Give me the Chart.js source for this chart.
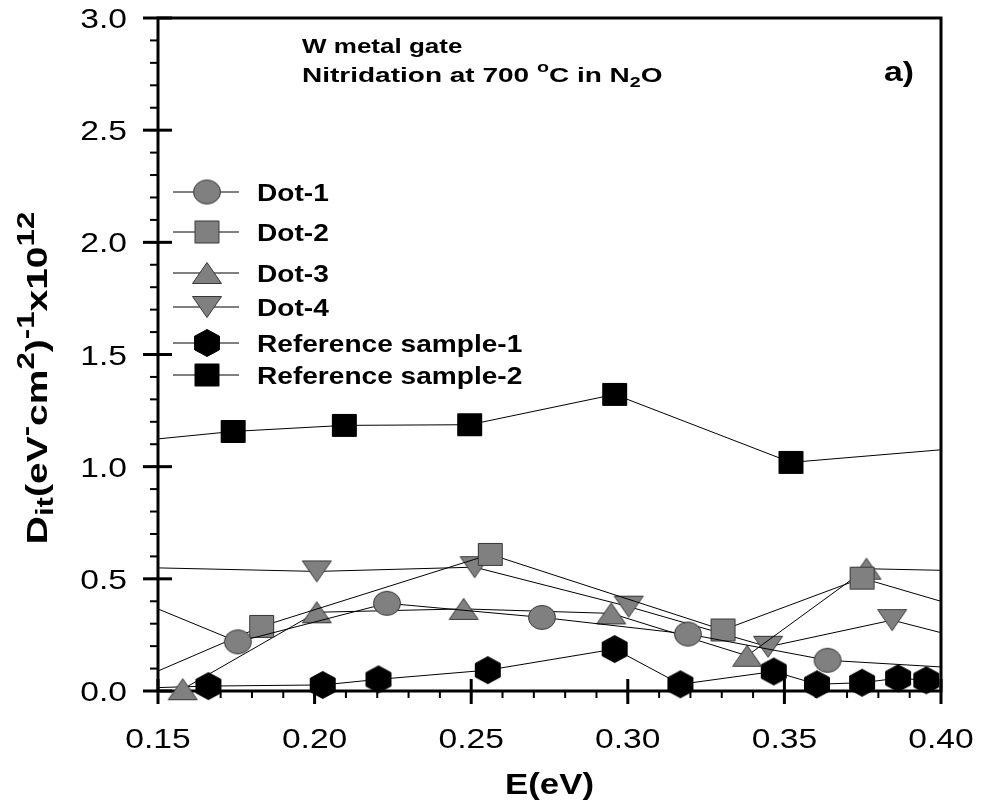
<!DOCTYPE html>
<html>
<head>
<meta charset="utf-8">
<script src="https://cdn.jsdelivr.net/npm/chart.js@4.4.0/dist/chart.umd.min.js"></script>
<style>
  html, body { margin: 0; padding: 0; background: #ffffff; }
</style>
</head>
<body>
<canvas id="chart1" width="983" height="805"></canvas>
<script>
// Interface trap density vs. energy, Dit in units of 1e12 (eV cm^2)^-1
const dot1E = [0.135, 0.1755, 0.2231, 0.2726, 0.3192, 0.3638, 0.41];
const dot1Dit = [0.452, 0.219, 0.391, 0.328, 0.254, 0.137, 0.099];

const dot2E = [0.14, 0.1831, 0.2561, 0.3304, 0.3748, 0.41];
const dot2Dit = [0.029, 0.288, 0.609, 0.272, 0.503, 0.359];

const dot3E = [0.1579, 0.2007, 0.2476, 0.2947, 0.3381, 0.3762, 0.41];
const dot3Dit = [0.008, 0.351, 0.366, 0.346, 0.157, 0.545, 0.535];

const dot4E = [0.13, 0.2007, 0.2511, 0.3003, 0.3448, 0.3844, 0.41];
const dot4Dit = [0.555, 0.533, 0.552, 0.376, 0.197, 0.316, 0.224];

const ref1E = [0.14, 0.1661, 0.2026, 0.2204, 0.2553, 0.2958, 0.3168, 0.3466, 0.3604, 0.3748, 0.3863, 0.3953];
const ref1Dit = [0.011, 0.022, 0.027, 0.052, 0.093, 0.187, 0.030, 0.087, 0.030, 0.037, 0.057, 0.048];

const ref2E = [0.14, 0.174, 0.2095, 0.2495, 0.2958, 0.3521, 0.41];
const ref2Dit = [1.11, 1.157, 1.184, 1.187, 1.322, 1.019, 1.087];

const seriesNames = ['Dot-1', 'Dot-2', 'Dot-3', 'Dot-4', 'Reference sample-1', 'Reference sample-2'];
const xTickLabels = ['0.15', '0.20', '0.25', '0.30', '0.35', '0.40'];
const yTickLabels = ['0.0', '0.5', '1.0', '1.5', '2.0', '2.5', '3.0'];

const FONT = '"Liberation Sans", Arial, sans-serif';
const GRAY = '#808080';
const EDGE = '#383838';

// symbols drawn onto small canvases and used as point styles
function makeMarker(shape, fill, stroke, w, h) {
  const c = document.createElement('canvas');
  c.width = w + 3;
  c.height = h + 3;
  const g = c.getContext('2d');
  const cx = c.width / 2, cy = c.height / 2;
  g.beginPath();
  if (shape === 'circle') {
    g.ellipse(cx, cy, w / 2, h / 2, 0, 0, Math.PI * 2);
  } else if (shape === 'square') {
    g.rect(cx - w / 2, cy - h / 2, w, h);
  } else if (shape === 'up') {
    g.moveTo(cx, cy - h / 2);
    g.lineTo(cx + w / 2, cy + h / 2);
    g.lineTo(cx - w / 2, cy + h / 2);
  } else if (shape === 'down') {
    g.moveTo(cx, cy + h / 2);
    g.lineTo(cx + w / 2, cy - h / 2);
    g.lineTo(cx - w / 2, cy - h / 2);
  } else if (shape === 'hex') {
    for (let i = 0; i < 6; i++) {
      const a = -Math.PI / 2 + i * Math.PI / 3;
      const px = cx + (w / 2) * Math.cos(a) / Math.cos(Math.PI / 6);
      const py = cy + (h / 2) * Math.sin(a);
      if (i === 0) g.moveTo(px, py); else g.lineTo(px, py);
    }
  }
  g.closePath();
  g.fillStyle = fill;
  g.fill();
  g.lineWidth = 1;
  g.strokeStyle = stroke;
  g.stroke();
  return c;
}

const markers = [
  makeMarker('circle', GRAY, EDGE, 27, 24),
  makeMarker('square', GRAY, EDGE, 24, 22),
  makeMarker('up', GRAY, EDGE, 29, 21),
  makeMarker('down', GRAY, EDGE, 29, 21),
  makeMarker('hex', '#000000', '#000000', 25, 27),
  makeMarker('square', '#000000', '#000000', 24, 22)
];

function pairs(xs, ys) {
  return xs.map((x, i) => ({ x: x, y: ys[i] }));
}

const allE = [dot1E, dot2E, dot3E, dot4E, ref1E, ref2E];
const allDit = [dot1Dit, dot2Dit, dot3Dit, dot4Dit, ref1Dit, ref2Dit];

const datasets = seriesNames.map((name, i) => ({
  label: name,
  data: pairs(allE[i], allDit[i]),
  showLine: true,
  borderColor: '#000000',
  borderWidth: 1,
  pointStyle: markers[i],
  pointRadius: 13,
  pointHoverRadius: 13,
  clip: { left: 0, top: 0, right: 0, bottom: 20 }
}));

// text widened horizontally, made of runs with their own size and offset
function richText(ctx, runs, x, y, sx, align) {
  let total = 0;
  runs.forEach(r => {
    ctx.font = (r.normal ? '' : 'bold ') + r.size + 'px ' + FONT;
    r.w = ctx.measureText(r.t).width;
    total += r.w;
  });
  const w = total * sx;
  let x0 = x;
  if (align === 'center') x0 = x - w / 2;
  if (align === 'right') x0 = x - w;
  ctx.save();
  ctx.translate(x0, y);
  ctx.scale(sx, 1);
  ctx.textAlign = 'left';
  ctx.textBaseline = 'alphabetic';
  ctx.fillStyle = '#000000';
  let cx = 0;
  runs.forEach(r => {
    ctx.font = (r.normal ? '' : 'bold ') + r.size + 'px ' + FONT;
    ctx.fillText(r.t, cx, r.dy || 0);
    cx += r.w;
  });
  ctx.restore();
  return w;
}

function plainText(ctx, str, x, y, size, bold, sx, align) {
  return richText(ctx, [{ t: str, size: size, normal: !bold }], x, y, sx, align);
}

const axesPlugin = {
  id: 'axesPlugin',
  beforeDatasetsDraw(chart) {
    const ctx = chart.ctx;
    const xs = chart.scales.x, ys = chart.scales.y;
    const a = chart.chartArea;
    ctx.save();
    ctx.strokeStyle = '#000000';
    ctx.lineCap = 'butt';

    // minor ticks
    ctx.lineWidth = 2;
    for (let v = 0.16; v < 0.40; v += 0.01) {
      const px = xs.getPixelForValue(v);
      ctx.beginPath();
      ctx.moveTo(px, a.bottom);
      ctx.lineTo(px, a.bottom + 7);
      ctx.stroke();
    }
    for (let v = 0.1; v < 3.0; v += 0.1) {
      const py = ys.getPixelForValue(v);
      ctx.beginPath();
      ctx.moveTo(a.left - 8, py);
      ctx.lineTo(a.left, py);
      ctx.stroke();
    }

    // major ticks cross the axis lines
    ctx.lineWidth = 3;
    xTickLabels.forEach(t => {
      const px = xs.getPixelForValue(parseFloat(t));
      ctx.beginPath();
      ctx.moveTo(px, a.bottom - 12);
      ctx.lineTo(px, a.bottom + 13);
      ctx.stroke();
    });
    yTickLabels.forEach(t => {
      const py = ys.getPixelForValue(parseFloat(t));
      ctx.beginPath();
      ctx.moveTo(a.left - 15, py);
      ctx.lineTo(a.left + 14, py);
      ctx.stroke();
    });

    // frame
    ctx.lineWidth = 3;
    ctx.strokeRect(a.left, a.top, a.right - a.left, a.bottom - a.top);
    ctx.restore();
  },
  afterDraw(chart) {
    const ctx = chart.ctx;
    const xs = chart.scales.x, ys = chart.scales.y;
    const a = chart.chartArea;

    // tick labels
    xTickLabels.forEach(t => {
      plainText(ctx, t, xs.getPixelForValue(parseFloat(t)), a.bottom + 57, 28, false, 1.2, 'center');
    });
    yTickLabels.forEach(t => {
      plainText(ctx, t, a.left - 31, ys.getPixelForValue(parseFloat(t)) + 10, 28, false, 1.2, 'right');
    });

    // axis titles
    plainText(ctx, 'E(eV)', (a.left + a.right) / 2, 794, 29, true, 1.2, 'center');

    ctx.save();
    ctx.translate(47, 378);
    ctx.rotate(-Math.PI / 2);
    richText(ctx, [
      { t: 'D', size: 30 },
      { t: 'it', size: 24, dy: 6 },
      { t: '(eV', size: 30 },
      { t: '-', size: 24, dy: -13 },
      { t: 'cm', size: 30 },
      { t: '2', size: 24, dy: -13 },
      { t: ')', size: 30 },
      { t: '-1', size: 24, dy: -13 },
      { t: 'x10', size: 30 },
      { t: '12', size: 24, dy: -13 }
    ], 0, 0, 1.3, 'center');
    ctx.restore();

    // sample notes
    plainText(ctx, 'W metal gate', 302, 53, 20, true, 1.3, 'left');
    richText(ctx, [
      { t: 'Nitridation at 700 ', size: 20 },
      { t: 'o', size: 14, dy: -10 },
      { t: 'C in N', size: 20 },
      { t: '2', size: 14, dy: 5 },
      { t: 'O', size: 20 }
    ], 302, 82, 1.4, 'left');
    plainText(ctx, 'a)', 914, 81, 27, true, 1.25, 'right');

    // legend
    const rows = [192, 232, 273, 307, 343, 375];
    ctx.save();
    ctx.strokeStyle = '#000000';
    ctx.lineWidth = 1;
    rows.forEach((ry, i) => {
      ctx.beginPath();
      ctx.moveTo(173, ry);
      ctx.lineTo(239, ry);
      ctx.stroke();
      const m = markers[i];
      ctx.drawImage(m, 207 - m.width / 2, ry - m.height / 2);
      plainText(ctx, seriesNames[i], 257, ry + 9, 24, true, 1.17, 'left');
    });
    ctx.restore();
  }
};

const ctx1 = document.getElementById('chart1').getContext('2d');
const chart1 = new Chart(ctx1, {
  type: 'scatter',
  data: { datasets: datasets },
  options: {
    responsive: false,
    animation: false,
    events: [],
    layout: { padding: { left: 158, right: 42, top: 18, bottom: 114 } },
    scales: {
      x: { type: 'linear', min: 0.15, max: 0.40, display: false },
      y: { type: 'linear', min: 0, max: 3.0, display: false }
    },
    plugins: {
      legend: { display: false },
      tooltip: { enabled: false }
    }
  },
  plugins: [axesPlugin]
});
</script>
</body>
</html>
